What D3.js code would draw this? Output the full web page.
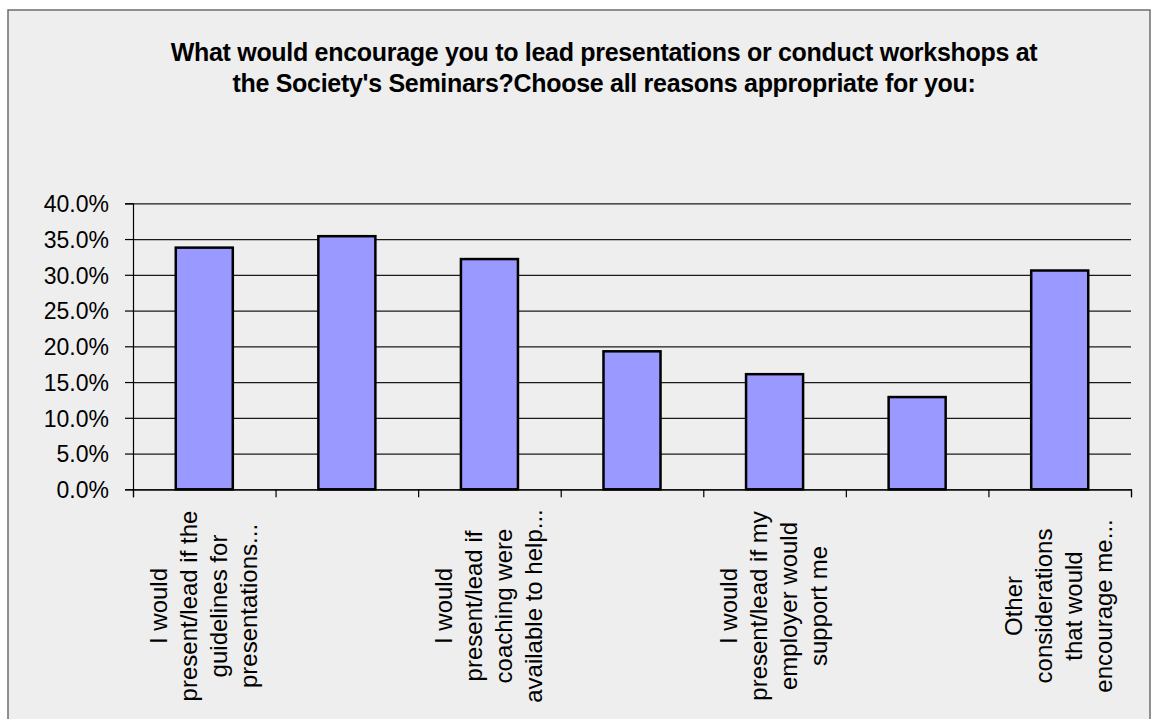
<!DOCTYPE html>
<html>
<head>
<meta charset="utf-8">
<script src="https://cdn.jsdelivr.net/npm/d3@7/dist/d3.min.js"></script>
<style>
    body { margin: 0; background: #ffffff; }
    svg text { font-family: "Liberation Sans", Arial, sans-serif; fill: #000; }
</style>
</head>
<body>
<svg id="chart" width="1152" height="719"></svg>
<script>
const title_lines = [
    'What would encourage you to lead presentations or conduct workshops at',
    'the Society\'s Seminars?Choose all reasons appropriate for you:',
];

const categories = ['c1', 'c2', 'c3', 'c4', 'c5', 'c6', 'c7'];

// Excel only shows every other category label.
const category_labels = [
    ['I would', 'present/lead if the', 'guidelines for', 'presentations...'],
    [],
    ['I would', 'present/lead if', 'coaching were', 'available to help...'],
    [],
    ['I would', 'present/lead if my', 'employer would', 'support me'],
    [],
    ['Other', 'considerations', 'that would', 'encourage me...'],
];

const values = [0.338, 0.354, 0.322, 0.193, 0.161, 0.129, 0.306];

const y_ticks = [0, 0.05, 0.10, 0.15, 0.20, 0.25, 0.30, 0.35, 0.40];

const svg = d3.select('#chart');

// chart frame
svg.append('rect')
    .attr('x', 8)
    .attr('y', 10)
    .attr('width', 1142)
    .attr('height', 730)
    .attr('fill', '#eeeeee')
    .attr('stroke', '#6e6e6e')
    .attr('stroke-width', 1.5);

svg.append('g')
    .selectAll('text')
    .data(title_lines)
    .join('text')
        .attr('x', 604)
        .attr('y', (d, i) => 61 + i * 31)
        .attr('text-anchor', 'middle')
        .attr('font-size', 25)
        .attr('font-weight', 'bold')
        .attr('letter-spacing', -0.3)
        .text((d) => d);

const plot = { left: 133, right: 1131, top: 203.3, bottom: 489.3 };

const x = d3.scaleBand()
    .domain(categories)
    .range([plot.left, plot.right])
    .paddingInner(0.6)
    .paddingOuter(0.3);

const y = d3.scaleLinear()
    .domain([0, 0.4])
    .range([plot.bottom, plot.top]);

// gridlines
svg.append('g')
    .attr('transform', `translate(${plot.left}, 0)`)
    .call(d3.axisLeft(y)
        .tickValues(y_ticks)
        .tickSize(-(plot.right - plot.left))
        .tickFormat(''))
    .call((g) => g.select('.domain').remove())
    .call((g) => g.selectAll('line').attr('stroke', '#1a1a1a').attr('stroke-width', 1.2));

// y axis with labels
svg.append('g')
    .attr('transform', `translate(${plot.left}, 0)`)
    .call(d3.axisLeft(y)
        .tickValues(y_ticks)
        .tickSize(8)
        .tickPadding(16)
        .tickFormat(d3.format('.1%')))
    .call((g) => g.select('.domain').attr('stroke', '#000').attr('stroke-width', 1.2))
    .call((g) => g.selectAll('line').attr('stroke', '#000').attr('stroke-width', 1.2))
    .call((g) => g.selectAll('text')
        .attr('font-size', 23)
        .attr('font-family', '"Liberation Sans", Arial, sans-serif')
        .attr('dy', '0.36em'));

// bars
svg.append('g')
    .selectAll('rect')
    .data(values)
    .join('rect')
        .attr('x', (d, i) => x(categories[i]))
        .attr('y', (d) => y(d))
        .attr('width', x.bandwidth())
        .attr('height', (d) => y(0) - y(d))
        .attr('fill', '#9999ff')
        .attr('stroke', '#000')
        .attr('stroke-width', 2.5);

// x axis, ticks sit on the category boundaries
const boundaries = d3.scaleLinear()
    .domain([0, categories.length])
    .range([plot.left, plot.right]);

svg.append('g')
    .attr('transform', `translate(0, ${plot.bottom})`)
    .call(d3.axisBottom(boundaries)
        .tickValues(d3.range(categories.length + 1))
        .tickSize(8)
        .tickFormat(''))
    .call((g) => g.select('.domain').attr('stroke', '#000').attr('stroke-width', 1.2))
    .call((g) => g.selectAll('line').attr('stroke', '#000').attr('stroke-width', 1.2));

// rotated, wrapped category labels
const label_groups = svg.append('g')
    .selectAll('g')
    .data(category_labels)
    .join('g')
        .attr('transform', (d, i) =>
            `translate(${x(categories[i]) + x.bandwidth() / 2}, 606) rotate(-90)`);

label_groups.selectAll('text')
    .data((d) => d.map((line, j) => ({ line: line, j: j, n: d.length })))
    .join('text')
        .attr('x', 0)
        .attr('y', (d) => (d.j - (d.n - 1) / 2) * 30 + 7.5)
        .attr('text-anchor', 'middle')
        .attr('font-size', 24)
        .text((d) => d.line);
</script>
</body>
</html>
